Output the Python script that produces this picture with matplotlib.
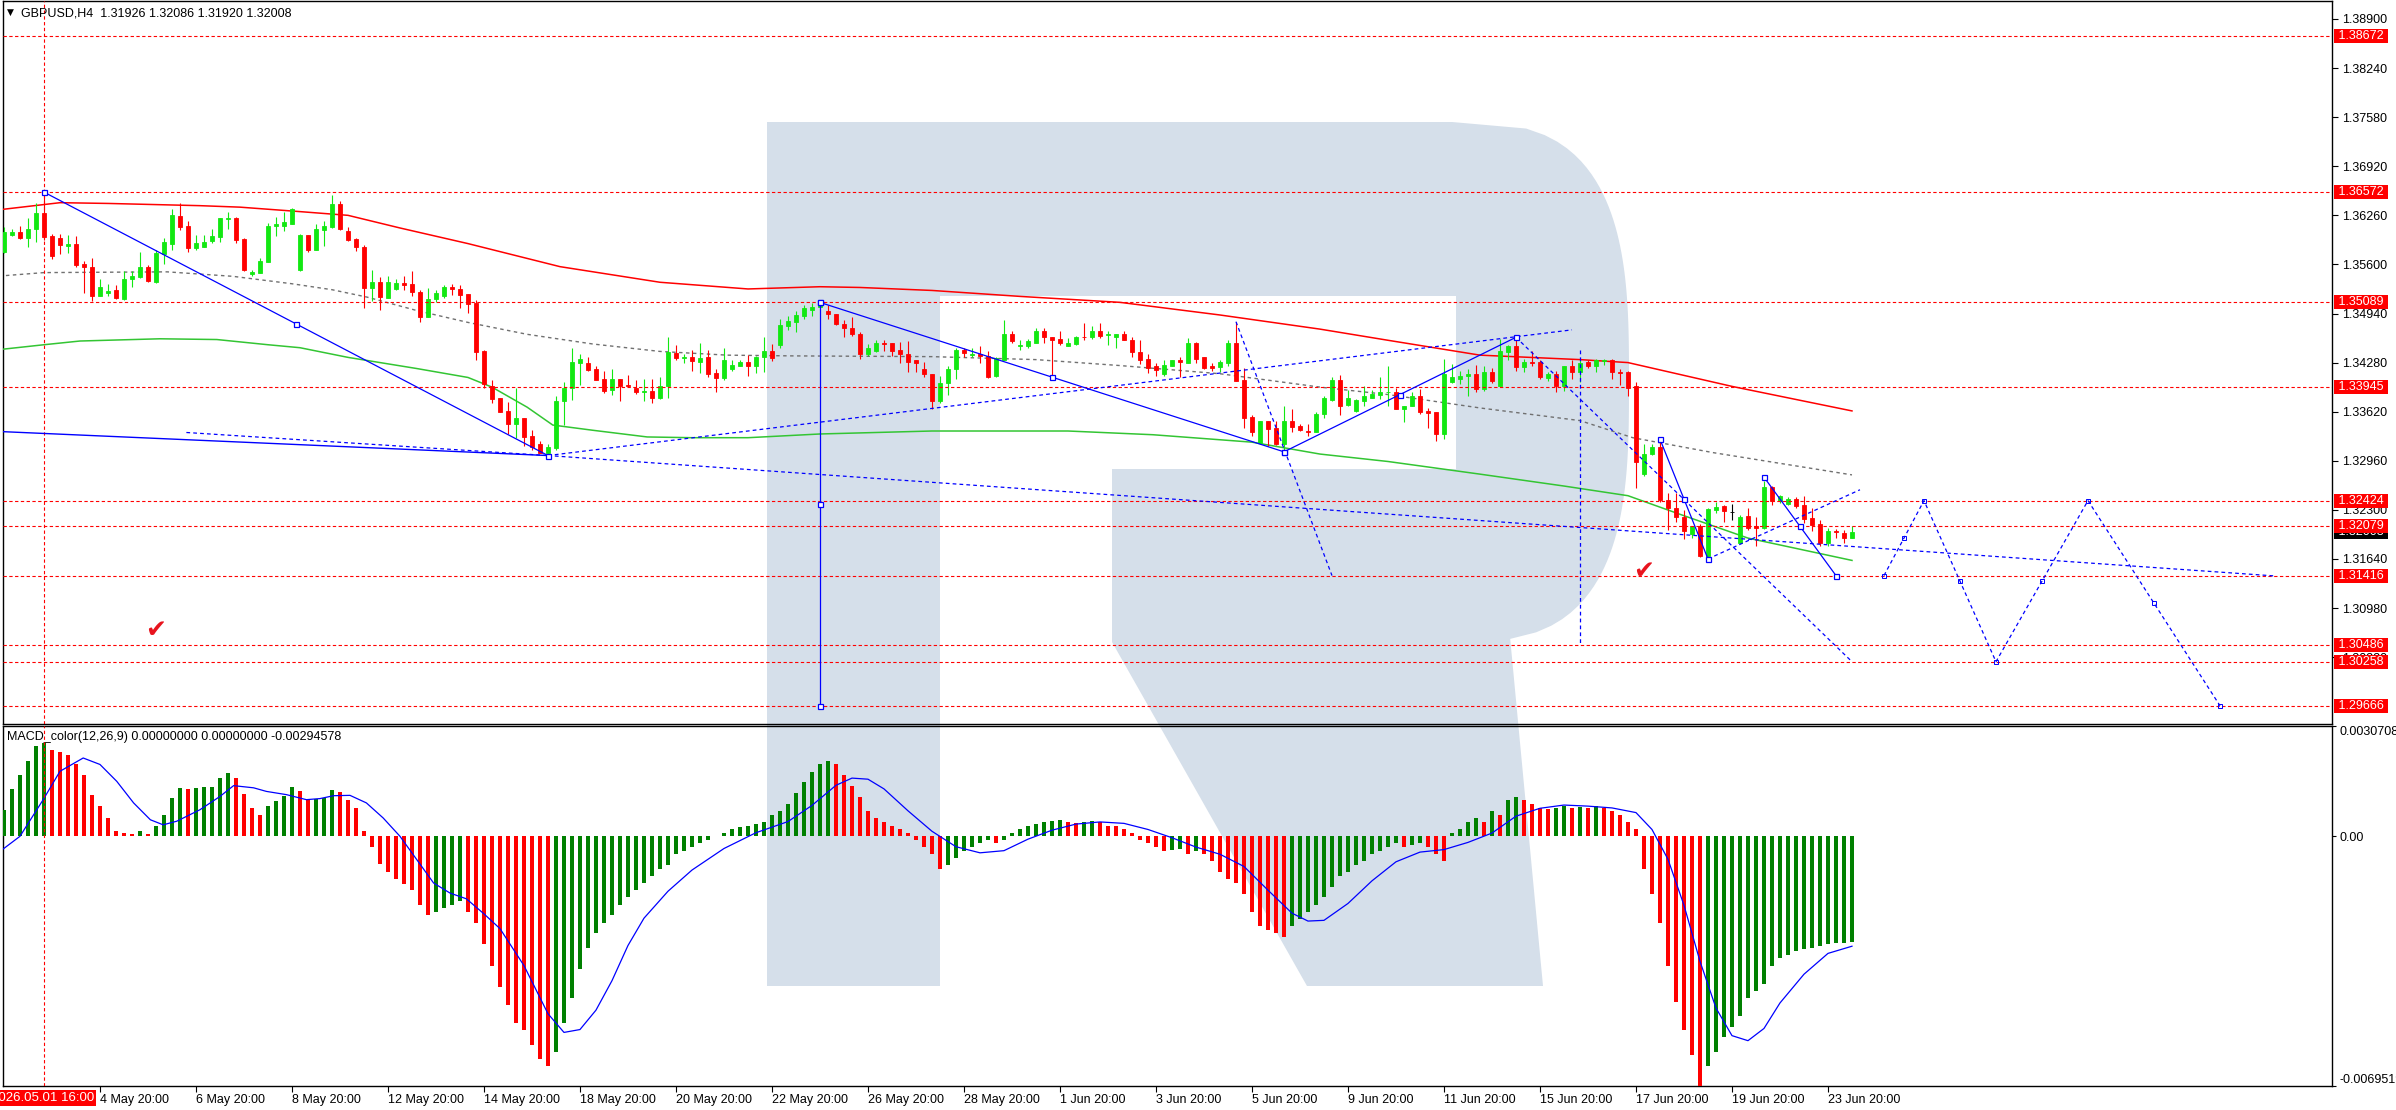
import numpy as np
import matplotlib
matplotlib.use("Agg")
import matplotlib.pyplot as plt
import matplotlib.transforms as mtrans
from matplotlib.patches import Polygon, Rectangle

plt.rcParams['font.family'] = ['Liberation Sans', 'DejaVu Sans']

W, H = 2396, 1110

# ---- GBPUSD H4 candles (bar 0 = 30 Apr 20:00) ----
opens = [
    1.3577, 1.3599, 1.3603, 1.3595, 1.3607, 1.3629, 1.3598, 1.3595, 1.3585, 1.3587,
    1.3560, 1.3556, 1.3517, 1.3521, 1.3525, 1.3514, 1.3541, 1.3543, 1.3556, 1.3536,
    1.3574, 1.3587, 1.3625, 1.3611, 1.3582, 1.3583, 1.3591, 1.3597, 1.3621, 1.3623,
    1.3594, 1.3547, 1.3549, 1.3563, 1.3612, 1.3612, 1.3615, 1.3552, 1.3599, 1.3579,
    1.3606, 1.3610, 1.3641, 1.3605, 1.3594, 1.3584, 1.3528, 1.3537, 1.3515, 1.3527,
    1.3535, 1.3533, 1.3523, 1.3489, 1.3513, 1.3518, 1.3529, 1.3527, 1.3520, 1.3508,
    1.3443, 1.3396, 1.3380, 1.3363, 1.3345, 1.3353, 1.3329, 1.3318, 1.3307, 1.3313,
    1.3376, 1.3394, 1.3428, 1.3428, 1.3419, 1.3406, 1.3391, 1.3406, 1.3398, 1.3394,
    1.3388, 1.3390, 1.3380, 1.3396, 1.3441, 1.3434, 1.3436, 1.3429, 1.3435, 1.3414,
    1.3407, 1.3419, 1.3424, 1.3429, 1.3424, 1.3435, 1.3444, 1.3451, 1.3477, 1.3482,
    1.3491, 1.3499, 1.3503, 1.3497, 1.3494, 1.3480, 1.3475, 1.3467, 1.3439, 1.3443,
    1.3455, 1.3454, 1.3445, 1.3439, 1.3431, 1.3419, 1.3413, 1.3376, 1.3400, 1.3419,
    1.3445, 1.3438, 1.3440, 1.3437, 1.3410, 1.3432, 1.3467, 1.3450, 1.3450, 1.3455,
    1.3470, 1.3463, 1.3460, 1.3450, 1.3453, 1.3463, 1.3462, 1.3471, 1.3465, 1.3462,
    1.3466, 1.3459, 1.3442, 1.3433, 1.3423, 1.3412, 1.3424, 1.3431, 1.3428, 1.3455,
    1.3435, 1.3424, 1.3422, 1.3428, 1.3455, 1.3404, 1.3355, 1.3320, 1.3349, 1.3340,
    1.3319, 1.3349, 1.3343, 1.3336, 1.3335, 1.3359, 1.3378, 1.3404, 1.3371, 1.3363,
    1.3377, 1.3381, 1.3385, 1.3388, 1.3389, 1.3365, 1.3369, 1.3383, 1.3363, 1.3361,
    1.3332, 1.3402, 1.3406, 1.3410, 1.3413, 1.3392, 1.3415, 1.3397, 1.3442, 1.3450,
    1.3422, 1.3429, 1.3429, 1.3407, 1.3413, 1.3396, 1.3424, 1.3415, 1.3429, 1.3423,
    1.3430, 1.3432, 1.3416, 1.3415, 1.3396, 1.3278, 1.3305, 1.3314, 1.3243, 1.3233,
    1.3221, 1.3197, 1.3208, 1.3168, 1.3230, 1.3235, 1.3227, 1.3186, 1.3222, 1.3208,
    1.3205, 1.3261, 1.3242, 1.3238, 1.3244, 1.3237, 1.3219, 1.3211, 1.3186, 1.3202,
    1.3199, 1.31926]
highs = [
    1.3610, 1.3607, 1.3611, 1.3622, 1.3642, 1.3655, 1.3601, 1.3601, 1.3600, 1.3598,
    1.3565, 1.3568, 1.3541, 1.3534, 1.3532, 1.3551, 1.3551, 1.3577, 1.3559, 1.3579,
    1.3595, 1.3634, 1.3642, 1.3619, 1.3599, 1.3599, 1.3608, 1.3623, 1.3630, 1.3624,
    1.3595, 1.3552, 1.3568, 1.3616, 1.3624, 1.3631, 1.3636, 1.3601, 1.3600, 1.3614,
    1.3619, 1.3653, 1.3645, 1.3610, 1.3595, 1.3586, 1.3552, 1.3543, 1.3544, 1.3541,
    1.3545, 1.3551, 1.3525, 1.3528, 1.3526, 1.3532, 1.3533, 1.3532, 1.3520, 1.3512,
    1.3445, 1.3404, 1.3381, 1.3375, 1.3394, 1.3353, 1.3338, 1.3322, 1.3318, 1.3383,
    1.3402, 1.3448, 1.3439, 1.3436, 1.3424, 1.3417, 1.3419, 1.3406, 1.3411, 1.3404,
    1.3406, 1.3406, 1.3408, 1.3463, 1.3451, 1.3440, 1.3445, 1.3454, 1.3445, 1.3419,
    1.3448, 1.3432, 1.3432, 1.3438, 1.3437, 1.3463, 1.3453, 1.3487, 1.3490, 1.3497,
    1.3506, 1.3508, 1.3509, 1.3505, 1.3494, 1.3485, 1.3489, 1.3469, 1.3453, 1.3458,
    1.3458, 1.3455, 1.3456, 1.3457, 1.3432, 1.3429, 1.3413, 1.3410, 1.3424, 1.3447,
    1.3447, 1.3448, 1.3450, 1.3444, 1.3435, 1.3485, 1.3470, 1.3458, 1.3460, 1.3475,
    1.3474, 1.3463, 1.3470, 1.3461, 1.3464, 1.3481, 1.3477, 1.3481, 1.3471, 1.3467,
    1.3471, 1.3463, 1.3459, 1.3439, 1.3428, 1.3432, 1.3432, 1.3436, 1.3461, 1.3456,
    1.3436, 1.3428, 1.3431, 1.3458, 1.3483, 1.3421, 1.3357, 1.3349, 1.3350, 1.3350,
    1.3369, 1.3365, 1.3345, 1.3345, 1.3362, 1.3383, 1.3408, 1.3411, 1.3391, 1.3379,
    1.3397, 1.3391, 1.3408, 1.3423, 1.3394, 1.3370, 1.3389, 1.3392, 1.3367, 1.3361,
    1.3433, 1.3426, 1.3417, 1.3419, 1.3425, 1.3424, 1.3421, 1.3460, 1.3452, 1.3461,
    1.3433, 1.3444, 1.3431, 1.3416, 1.3417, 1.3424, 1.3431, 1.3431, 1.3431, 1.3433,
    1.3433, 1.3433, 1.3419, 1.3417, 1.3402, 1.3318, 1.3318, 1.3323, 1.3252, 1.3252,
    1.3230, 1.3208, 1.3211, 1.3232, 1.3241, 1.3236, 1.3238, 1.3223, 1.3232, 1.3221,
    1.3269, 1.3262, 1.3250, 1.3247, 1.3247, 1.3249, 1.3232, 1.3216, 1.3205, 1.3204,
    1.3203, 1.32086]
lows = [
    1.3575, 1.3598, 1.3594, 1.3584, 1.3590, 1.3593, 1.3567, 1.3574, 1.3575, 1.3557,
    1.3521, 1.3511, 1.3517, 1.3518, 1.3513, 1.3512, 1.3529, 1.3542, 1.3537, 1.3535,
    1.3561, 1.3579, 1.3606, 1.3577, 1.3580, 1.3583, 1.3589, 1.3590, 1.3607, 1.3589,
    1.3551, 1.3544, 1.3549, 1.3563, 1.3598, 1.3605, 1.3615, 1.3551, 1.3577, 1.3579,
    1.3585, 1.3609, 1.3606, 1.3591, 1.3578, 1.3501, 1.3511, 1.3499, 1.3515, 1.3526,
    1.3526, 1.3518, 1.3482, 1.3489, 1.3509, 1.3515, 1.3519, 1.3501, 1.3495, 1.3431,
    1.3394, 1.3373, 1.3361, 1.3332, 1.3327, 1.3316, 1.3311, 1.3306, 1.3303, 1.3311,
    1.3344, 1.3378, 1.3398, 1.3417, 1.3404, 1.3387, 1.3385, 1.3377, 1.3395, 1.3386,
    1.3376, 1.3373, 1.3379, 1.3381, 1.3431, 1.3427, 1.3417, 1.3414, 1.3409, 1.3389,
    1.3405, 1.3417, 1.3423, 1.3410, 1.3414, 1.3416, 1.3430, 1.3448, 1.3472, 1.3469,
    1.3487, 1.3491, 1.3503, 1.3486, 1.3479, 1.3463, 1.3464, 1.3433, 1.3437, 1.3442,
    1.3444, 1.3437, 1.3428, 1.3415, 1.3416, 1.3408, 1.3366, 1.3373, 1.3385, 1.3406,
    1.3436, 1.3436, 1.3428, 1.3407, 1.3408, 1.3431, 1.3454, 1.3445, 1.3448, 1.3454,
    1.3454, 1.3406, 1.3452, 1.3450, 1.3452, 1.3459, 1.3460, 1.3461, 1.3451, 1.3448,
    1.3458, 1.3435, 1.3426, 1.3414, 1.3410, 1.3410, 1.3423, 1.3409, 1.3428, 1.3428,
    1.3419, 1.3417, 1.3415, 1.3423, 1.3403, 1.3340, 1.3329, 1.3319, 1.3316, 1.3317,
    1.3309, 1.3334, 1.3336, 1.3329, 1.3334, 1.3354, 1.3377, 1.3357, 1.3369, 1.3361,
    1.3370, 1.3380, 1.3379, 1.3369, 1.3366, 1.3348, 1.3369, 1.3359, 1.3340, 1.3323,
    1.3325, 1.3400, 1.3399, 1.3383, 1.3388, 1.3390, 1.3401, 1.3397, 1.3431, 1.3417,
    1.3415, 1.3423, 1.3406, 1.3403, 1.3389, 1.3390, 1.3406, 1.3402, 1.3421, 1.3416,
    1.3425, 1.3406, 1.3398, 1.3383, 1.3260, 1.3276, 1.3304, 1.3240, 1.3203, 1.3213,
    1.3191, 1.3192, 1.3167, 1.3164, 1.3226, 1.3213, 1.3217, 1.3186, 1.3203, 1.3181,
    1.3204, 1.3237, 1.3239, 1.3237, 1.3233, 1.3212, 1.3202, 1.3182, 1.3181, 1.3192,
    1.3186, 1.31920]
closes = [
    1.3604, 1.3603, 1.3595, 1.3607, 1.3629, 1.3597, 1.3571, 1.3586, 1.3587, 1.3559,
    1.3556, 1.3517, 1.3530, 1.3524, 1.3515, 1.3541, 1.3544, 1.3556, 1.3538, 1.3575,
    1.3590, 1.3626, 1.3610, 1.3582, 1.3589, 1.3590, 1.3598, 1.3622, 1.3623, 1.3593,
    1.3552, 1.3550, 1.3564, 1.3612, 1.3614, 1.3617, 1.3635, 1.3600, 1.3579, 1.3607,
    1.3611, 1.3641, 1.3607, 1.3593, 1.3583, 1.3528, 1.3537, 1.3516, 1.3537, 1.3535,
    1.3532, 1.3523, 1.3489, 1.3514, 1.3522, 1.3529, 1.3527, 1.3519, 1.3507, 1.3442,
    1.3399, 1.3379, 1.3362, 1.3345, 1.3353, 1.3328, 1.3314, 1.3307, 1.3315, 1.3377,
    1.3394, 1.3429, 1.3433, 1.3418, 1.3405, 1.3390, 1.3406, 1.3397, 1.3396, 1.3388,
    1.3390, 1.3380, 1.3397, 1.3442, 1.3434, 1.3436, 1.3430, 1.3434, 1.3412, 1.3407,
    1.3432, 1.3425, 1.3429, 1.3424, 1.3436, 1.3444, 1.3434, 1.3478, 1.3484, 1.3492,
    1.3501, 1.3503, 1.3506, 1.3493, 1.3480, 1.3474, 1.3466, 1.3439, 1.3447, 1.3455,
    1.3453, 1.3444, 1.3439, 1.3429, 1.3427, 1.3412, 1.3376, 1.3401, 1.3420, 1.3445,
    1.3441, 1.3440, 1.3437, 1.3409, 1.3434, 1.3467, 1.3457, 1.3451, 1.3457, 1.3470,
    1.3462, 1.3459, 1.3454, 1.3454, 1.3463, 1.3462, 1.3471, 1.3464, 1.3466, 1.3466,
    1.3459, 1.3442, 1.3431, 1.3421, 1.3418, 1.3425, 1.3431, 1.3429, 1.3455, 1.3433,
    1.3421, 1.3421, 1.3429, 1.3455, 1.3403, 1.3354, 1.3335, 1.3349, 1.3339, 1.3319,
    1.3350, 1.3342, 1.3337, 1.3335, 1.3359, 1.3380, 1.3404, 1.3370, 1.3380, 1.3378,
    1.3383, 1.3386, 1.3389, 1.3389, 1.3366, 1.3370, 1.3383, 1.3362, 1.3360, 1.3332,
    1.3413, 1.3408, 1.3410, 1.3413, 1.3392, 1.3415, 1.3403, 1.3444, 1.3450, 1.3422,
    1.3429, 1.3428, 1.3408, 1.3413, 1.3396, 1.3424, 1.3415, 1.3428, 1.3423, 1.3431,
    1.3431, 1.3415, 1.3414, 1.3394, 1.3294, 1.3305, 1.3314, 1.3243, 1.3232, 1.3220,
    1.3201, 1.3208, 1.3168, 1.3231, 1.3234, 1.3228, 1.3227, 1.3221, 1.3206, 1.3205,
    1.3261, 1.3242, 1.3248, 1.3245, 1.3235, 1.3218, 1.3210, 1.3186, 1.3202, 1.3200,
    1.3192, 1.32008]

# moving averages, sampled (bar, price)
ma_red_x = [-1, 7, 13, 24.5, 29.5, 37, 43, 49.5, 58, 69.5, 82, 93, 102, 107, 116,
            127, 139.5, 152, 164.5, 173, 184.5, 197, 203, 216, 231]
ma_red_y = [1.3633, 1.3643, 1.3642, 1.3639, 1.3637, 1.3631, 1.3626, 1.3609, 1.3588,
            1.3557, 1.3536, 1.3527, 1.3530, 1.3529, 1.3525, 1.3517, 1.3509, 1.3492,
            1.3473, 1.3458, 1.3438, 1.3432, 1.3428, 1.3396, 1.3363]
ma_green_x = [-1, 5, 9.5, 19.5, 26.6, 33, 37, 43, 51.6, 58, 61, 65.4, 68.6, 73.6, 80.4,
              86, 93, 102, 116, 133, 143.6, 156, 164.5, 173, 184.5, 195, 203, 209.5,
              218, 231]
ma_green_y = [1.3445, 1.3452, 1.3457, 1.3460, 1.3459, 1.3452, 1.3448, 1.3435, 1.3420,
              1.3408, 1.3395, 1.3368, 1.3344, 1.3337, 1.3328, 1.3327, 1.3327, 1.3332,
              1.3336, 1.3336, 1.3331, 1.3321, 1.3305, 1.3295, 1.3278, 1.3262, 1.3249,
              1.3224, 1.3192, 1.3162]
ma_gray_x = [-1, 5, 20.4, 28.6, 36, 41, 45.4, 51.6, 58, 65.4, 73.6, 82, 90.4, 98.6, 116,
             129, 139.5, 152, 164.5, 173, 184.5, 197, 203.6, 213.6, 231]
ma_gray_y = [1.3544, 1.3549, 1.3550, 1.3544, 1.3534, 1.3526, 1.3516, 1.3498, 1.3482,
             1.3466, 1.3453, 1.3443, 1.3438, 1.3437, 1.3436, 1.3432, 1.3424, 1.3413,
             1.3395, 1.3385, 1.3367, 1.3350, 1.3327, 1.3307, 1.3277]

# horizontal levels (right-hand red labels)
level_prices = [1.38672, 1.36572, 1.35089, 1.33945, 1.32424, 1.32079, 1.31416,
                1.30486, 1.30258, 1.29666]
last_price = 1.32008
price_ticks = [1.38900, 1.38240, 1.37580, 1.36920, 1.36260, 1.35600, 1.34940, 1.34280,
               1.33620, 1.32960, 1.32300, 1.31640, 1.30980, 1.30320]

# wave analysis drawings (bar, price)
solid_lines = [[(5, 1.36572), (68, 1.3303)],
               [(102, 1.35089), (160, 1.3308)],
               [(160, 1.3308), (189, 1.3462)],
               [(207, 1.3325), (213, 1.3164)],
               [(220, 1.3274), (229, 1.31416)],
               [(102, 1.35089), (102, 1.29666)]]
plain_solid = [[(-2, 1.3336), (68, 1.3303)]]
dashed_lines = [[(22.8, 1.3334), (68, 1.3303)],
                [(68, 1.3303), (284, 1.3141)],
                [(68, 1.3303), (196, 1.3472)],
                [(154, 1.3483), (166, 1.31416)],
                [(197, 1.3445), (197, 1.30486)],
                [(189, 1.3462), (231, 1.30258)],
                [(213, 1.3164), (232, 1.3257)]]
forecast_x = [235, 240, 249, 260.5, 277]
forecast_y = [1.31416, 1.32424, 1.30258, 1.32424, 1.29666]
checks = [(19, 1.3068), (205, 1.3148)]

# MACD histogram and signal
macd_last = -0.00294578
macd_hist = [
    0.00074, 0.00133, 0.00172, 0.00209, 0.00252, 0.00260, 0.00241, 0.00236, 0.00227, 0.00200,
    0.00172, 0.00116, 0.00084, 0.00050, 0.00016, 0.00009, 0.00007, 0.00016, 0.00007, 0.00030,
    0.00058, 0.00108, 0.00135, 0.00133, 0.00135, 0.00136, 0.00138, 0.00161, 0.00177, 0.00163,
    0.00119, 0.00080, 0.00060, 0.00083, 0.00099, 0.00113, 0.00138, 0.00127, 0.00102, 0.00105,
    0.00108, 0.00130, 0.00122, 0.00102, 0.00080, 0.00016, -0.00031, -0.00078, -0.00100, -0.00120,
    -0.00134, -0.00150, -0.0019, -0.0022, -0.0021, -0.0020, -0.0019, -0.0018, -0.0021, -0.0024,
    -0.0030, -0.0036, -0.0042, -0.0047, -0.0052, -0.0054, -0.0058, -0.0062, -0.0064, -0.0060,
    -0.0052, -0.0045, -0.0037, -0.0031, -0.0027, -0.0024, -0.0022, -0.0019, -0.0017, -0.0015,
    -0.0013, -0.0011, -0.0009, -0.0008, -0.0005, -0.0004, -0.0003, -0.0002, -0.0001, 0.00002,
    0.0001, 0.0002, 0.00025, 0.0003, 0.00035, 0.0004, 0.0006, 0.0007, 0.0009, 0.0012,
    0.0015, 0.0018, 0.0020, 0.0021, 0.0020, 0.0017, 0.0014, 0.0011, 0.0007, 0.0005,
    0.0004, 0.0003, 0.0002, 0.0001, -0.0001, -0.0003, -0.0005, -0.0009, -0.0008, -0.0006,
    -0.0004, -0.0003, -0.0002, -0.0001, -0.0002, -0.0001, 0.0001, 0.0002, 0.0003, 0.00035,
    0.0004, 0.00042, 0.00044, 0.0004, 0.00038, 0.0004, 0.00042, 0.0004, 0.0003, 0.00028,
    0.0002, 0.0001, -0.0001, -0.0002, -0.0003, -0.0004, -0.00038, -0.00036, -0.0005, -0.0004,
    -0.0005, -0.0007, -0.0010, -0.0012, -0.0013, -0.0016, -0.0021, -0.0025, -0.0026, -0.0027,
    -0.0028, -0.0025, -0.0023, -0.0021, -0.0019, -0.0017, -0.0014, -0.0011, -0.0010, -0.0008,
    -0.0007, -0.0005, -0.0004, -0.0003, -0.0002, -0.0003, -0.00025, -0.0002, -0.0003, -0.0005,
    -0.0007, 0.0001, 0.0002, 0.0004, 0.0005, 0.0004, 0.0007, 0.0006, 0.0010, 0.0011,
    0.0010, 0.0009, 0.0008, 0.00075, 0.0008, 0.00085, 0.0008, 0.00082, 0.0008, 0.00083,
    0.0008, 0.0007, 0.0006, 0.0004, 0.0002, -0.0009, -0.0016, -0.0024, -0.0036, -0.0046,
    -0.0054, -0.0061, -0.00695, -0.0064, -0.0060, -0.0056, -0.0053, -0.0050, -0.0045, -0.0043,
    -0.0041, -0.0036, -0.0034, -0.0033, -0.0032, -0.00315, -0.0031, -0.00305, -0.0030, -0.00298,
    -0.00296, macd_last]
sig_x = [-0.5, 2, 4.9, 7, 9.9, 12, 14.1, 16.2, 18.3, 19.9, 21.6, 24.5, 27, 28.7, 31.2,
         32.8, 35.3, 37.8, 39.5, 41.2, 43.25, 45.3, 47.4, 49.5, 51.6, 53.7, 55.75, 57.8,
         60, 62, 65, 68, 70, 72, 74, 76, 78, 80, 83, 86, 90, 94, 98, 101, 104, 106, 108,
         110, 113, 116, 119, 122, 125, 128, 131, 134, 137, 140, 143, 146, 149, 152, 155,
         158, 161, 163, 165, 168, 171, 174, 177, 180, 183, 186, 189, 192, 195, 198, 201,
         204, 206, 208, 210, 212, 214, 216, 218, 220, 222, 225, 228, 231]
sig_y = [-0.00042, 0.0, 0.00102, 0.00181, 0.00218, 0.00200, 0.00153, 0.00093, 0.00046,
         0.00032, 0.00042, 0.00074, 0.00111, 0.00141, 0.00135, 0.00125, 0.00116, 0.00102,
         0.00105, 0.00113, 0.00114, 0.00093, 0.00051, 0.0, -0.00065, -0.00130, -0.00158,
         -0.00174, -0.00216, -0.00257, -0.0036, -0.00494, -0.00546, -0.00538, -0.00484,
         -0.00402, -0.00304, -0.00228, -0.00153, -0.00094, -0.00034, 0.0001, 0.00041,
         0.00086, 0.00142, 0.00162, 0.00159, 0.00132, 0.00071, 0.00014, -0.00029, -0.00046,
         -0.0004, -0.00008, 0.00017, 0.00034, 0.0004, 0.00036, 0.00019, -0.00004, -0.0003,
         -0.0005, -0.00084, -0.0015, -0.00214, -0.00236, -0.00234, -0.00187, -0.00124,
         -0.00071, -0.00044, -0.00037, -0.00017, 0.00009, 0.00056, 0.00078, 0.00087,
         0.00084, 0.00079, 0.00066, 0.00019, -0.00064, -0.00192, -0.00348, -0.00478,
         -0.00555, -0.00569, -0.00535, -0.00464, -0.00384, -0.00326, -0.00306]

date_ticks = [12, 24, 36, 48, 60, 72, 84, 96, 108, 120, 132, 144, 156, 168, 180, 192,
              204, 216, 228]
date_labels = ["4 May 20:00", "6 May 20:00", "8 May 20:00", "12 May 20:00",
               "14 May 20:00", "18 May 20:00", "20 May 20:00", "22 May 20:00",
               "26 May 20:00", "28 May 20:00", "1 Jun 20:00", "3 Jun 20:00",
               "5 Jun 20:00", "9 Jun 20:00", "11 Jun 20:00", "15 Jun 20:00",
               "17 Jun 20:00", "19 Jun 20:00", "23 Jun 20:00"]
cursor_bar = 5

UP, DN = '#12e812', '#ff0000'
BLUE = '#0000ff'
LOGO = '#d5dfea'


def box(l, t, r, b):
    return [l / W, 1 - b / H, (r - l) / W, (b - t) / H]


fig = plt.figure(figsize=(W / 100, H / 100), dpi=100)
fig.patch.set_facecolor('white')

# watermark logo in pixel space
bg = fig.add_axes([0, 0, 1, 1], zorder=0)
bg.set_xlim(0, W)
bg.set_ylim(H, 0)
bg.axis('off')
t = np.linspace(-1, 0.988, 80)
cx, cy, rx, ry = 1452, 382, 177, 260
curve = np.column_stack([cx + rx * np.cbrt(1 - np.abs(t) ** 3), cy + ry * t])
outline = np.vstack([[[767, 122]], curve,
                     [[1543, 986], [1307, 986], [1112, 642], [1112, 469],
                      [940, 469], [940, 986], [767, 986]]])
bg.add_patch(Polygon(outline, closed=True, fc=LOGO, ec='none'))
bg.add_patch(Rectangle((940, 296), 516, 173, fc='white', ec='none'))

# price panel
ax = fig.add_axes(box(2.7, 1, 2332.3, 723.5), zorder=2)
ax.patch.set_alpha(0)
ax.set_xlim(-0.16, 291.04)
ax.set_ylim(1.29427, 1.39142)

idx = np.arange(len(closes))
o, hi, lo, c = map(np.array, (opens, highs, lows, closes))
col = np.where(c > o, UP, np.where(c < o, DN, 'black'))
ax.vlines(idx, lo, hi, colors=col, lw=0.8, zorder=4)
ax.bar(idx, np.abs(c - o), bottom=np.minimum(o, c), width=0.6, color=col,
       edgecolor=col, linewidth=0.6, zorder=5)

ax.plot(ma_red_x, ma_red_y, color='#ff0000', lw=1.1, zorder=3)
ax.plot(ma_green_x, ma_green_y, color='#33c533', lw=1.1, zorder=3)
ax.plot(ma_gray_x, ma_gray_y, color='#707070', lw=1.0, ls=(0, (2.5, 2.5)), zorder=3)

for p in level_prices:
    ax.axhline(p, color='#ff0000', lw=0.8, ls=(0, (3, 2.2)), zorder=6)
ax.axvline(cursor_bar, color='#ff0000', lw=0.8, ls=(0, (3, 2.2)), zorder=6)

for seg in plain_solid:
    xs, ys = zip(*seg)
    ax.plot(xs, ys, color=BLUE, lw=1.0, zorder=7)
for seg in solid_lines:
    xs, ys = zip(*seg)
    ax.plot(xs, ys, color=BLUE, lw=0.9, zorder=7)
    mx, my = np.mean(xs), np.mean(ys)
    ax.plot(list(xs) + [mx], list(ys) + [my], ls='none', marker='s', ms=3.6,
            mfc='white', mec=BLUE, mew=0.9, zorder=8)
for seg in dashed_lines:
    xs, ys = zip(*seg)
    ax.plot(xs, ys, color=BLUE, lw=0.9, ls=(0, (3, 2.5)), zorder=7)
ax.plot(forecast_x, forecast_y, color=BLUE, lw=0.9, ls=(0, (3, 2.5)), zorder=7)
fx = np.array(forecast_x)
fy = np.array(forecast_y)
ax.plot(np.r_[fx, (fx[:-1] + fx[1:]) / 2], np.r_[fy, (fy[:-1] + fy[1:]) / 2],
        ls='none', marker='s', ms=2.8, mfc='none', mec=BLUE, mew=0.7, zorder=8)

for bx_, by_ in checks:
    ax.text(bx_, by_, '\u2714', color='#e8141e', fontsize=18, ha='center',
            va='center', family=['DejaVu Sans'], zorder=9)

ax.yaxis.tick_right()
ax.set_yticks(price_ticks)
ax.set_yticklabels([f'{v:.5f}' for v in price_ticks])
ax.tick_params(axis='y', length=4, width=0.8, pad=3, labelsize=9, colors='black')
ax.tick_params(axis='x', bottom=False, labelbottom=False)
for s in ax.spines.values():
    s.set_linewidth(1.0)

tr = mtrans.blended_transform_factory(ax.transAxes, ax.transData)
ax.text(1.0012, last_price, ' %.5f ' % last_price, transform=tr, ha='left',
        va='center', fontsize=9, color='white', zorder=10, clip_on=False,
        bbox=dict(boxstyle='square,pad=0.08', fc='black', ec='none'))
for p in level_prices:
    ax.text(1.0012, p, ' %.5f ' % p, transform=tr, ha='left', va='center',
            fontsize=9, color='white', zorder=11, clip_on=False,
            bbox=dict(boxstyle='square,pad=0.08', fc='#ff0000', ec='none'))

fig.text(7 / W, 1 - 12.5 / H, '\u25bc', fontsize=6.5, va='center', ha='left',
         family=['DejaVu Sans'])
fig.text(21 / W, 1 - 13 / H,
         'GBPUSD,H4  %.5f %.5f %.5f %.5f' % (opens[-1], highs[-1], lows[-1], closes[-1]),
         fontsize=9, va='center', ha='left')

# MACD panel
ax2 = fig.add_axes(box(2.7, 726, 2332.3, 1086), zorder=2)
ax2.patch.set_alpha(0)
ax2.set_xlim(-0.16, 291.04)
ax2.set_ylim(-0.0069519, 0.0030708)
mh = np.array(macd_hist)
mcol = ['#008000' if i == 0 or mh[i] > mh[i - 1] else '#ff0000' for i in range(len(mh))]
ax2.bar(idx, mh, width=0.38, color=mcol, linewidth=0, zorder=3)
ax2.plot(sig_x, sig_y, color=BLUE, lw=0.9, zorder=4)
ax2.axvline(cursor_bar, color='#ff0000', lw=0.8, ls=(0, (3, 2.2)), zorder=6)
ax2.text(4.0 / 2329.6, 1 - 11 / 360, 'MACD_color(12,26,9) 0.00000000 0.00000000 %.8f'
         % macd_last, transform=ax2.transAxes, fontsize=9, va='center', ha='left')
ax2.yaxis.tick_right()
ax2.set_yticks([0.0030708, 0.0, -0.0069519])
ax2.set_yticklabels(['0.0030708', '0.00', '-0.0069519'])
ylabs = ax2.get_yticklabels()
ylabs[0].set_va('top')
ylabs[2].set_va('bottom')
ax2.tick_params(axis='y', length=3, width=0.8, pad=2, labelsize=9)
ax2.set_xticks(date_ticks)
ax2.set_xticklabels(date_labels, ha='left')
ax2.tick_params(axis='x', length=4, width=0.8, pad=2, labelsize=9)
for s in ax2.spines.values():
    s.set_linewidth(1.0)

fig.text(94 / W, 1 - 1098 / H, '2026.05.01 16:00', fontsize=9.5, color='white',
         ha='right', va='center',
         bbox=dict(boxstyle='square,pad=0.15', fc='#ff0000', ec='none'))

fig.savefig('out.png', dpi=100, facecolor='white')
